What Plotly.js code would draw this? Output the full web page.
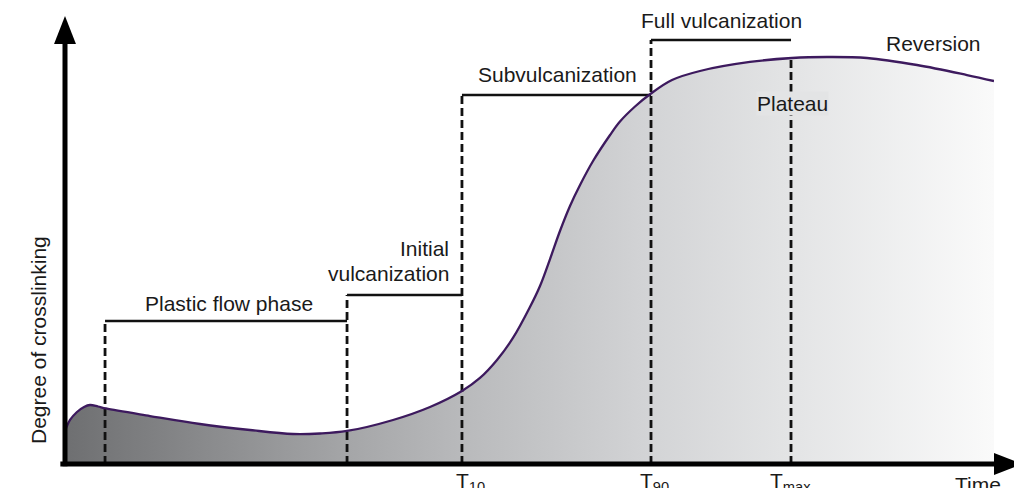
<!DOCTYPE html>
<html>
<head>
<meta charset="utf-8">
<script src="https://cdn.plot.ly/plotly-3.0.1.min.js"></script>
<style>
  html, body { margin: 0; padding: 0; background: #ffffff; }
  #chart { width: 1014px; height: 488px; }
</style>
</head>
<body>
<div id="chart"></div>
<script>
// Cure curve (arbitrary units: time 0-100, degree of crosslinking 0-100)
const time = [0, 0.54, 1.29, 2.05, 2.69, 3.55, 4.41, 9.15, 14.53, 19.91, 24.54, 27.45, 30.36,
  35.31, 39.29, 42.73, 44.67, 46.50, 48.22, 50.05, 51.13, 52.21, 53.28, 54.36, 55.44, 56.84,
  58.67, 59.74, 61.36, 63.08, 65.34, 68.35, 73.73, 78.26, 82.02, 86.33, 91.71, 97.09, 100];
const crosslinking = [7.3, 9.76, 11.53, 12.64, 13.08, 12.75, 12.31, 10.64, 8.87, 7.54, 6.65, 6.76, 7.32,
  9.76, 12.64, 16.19, 19.07, 23.06, 27.94, 34.81, 39.47, 45.45, 51.66, 57.21, 61.86, 67.18,
  72.95, 75.94, 79.27, 82.15, 85.14, 87.14, 89.14, 90.02, 90.24, 90.02, 88.47, 86.25, 84.92];

// Phase boundaries (dashed verticals) and their tops
const boundaryTimes = [4.31, 30.36, 42.73, 63.08, 78.15];
const boundaryTops = [31.71, 37.47, 81.82, 94.01, 90.0];

// Phase brackets (solid horizontals between consecutive boundaries)
const bracketLevels = [31.71, 37.47, 81.82, 94.01];
const phaseLabels = ['Plastic flow phase', 'Initial', 'vulcanization', 'Subvulcanization', 'Full vulcanization'];

// Other labels
const timeMarks = ['T<sub>10</sub>', 'T<sub>90</sub>', 'T<sub>max</sub>'];

const font = 'Liberation Sans, Arial, Helvetica, sans-serif';
const ink = '#1a1a1a';

// dashed vertical lines
const dx = [], dy = [];
boundaryTimes.forEach((t, i) => { dx.push(t, t, null); dy.push(0, boundaryTops[i], null); });
// brackets
const bx = [], by = [];
bracketLevels.forEach((lv, i) => { bx.push(boundaryTimes[i], boundaryTimes[i + 1], null); by.push(lv, lv, null); });

const traces = [
  {
    x: time, y: crosslinking, type: 'scatter', mode: 'lines', fill: 'tozeroy',
    line: { width: 0, color: 'rgba(0,0,0,0)', shape: 'spline', smoothing: 1 },
    fillgradient: {
      type: 'horizontal',
      colorscale: [[0, '#6e6f71'], [0.3, '#a4a5a7'], [0.43, '#b9babc'], [0.63, '#d3d4d6'], [0.78, '#e3e4e5'], [1, '#fafafa']]
    },
    hoverinfo: 'skip', showlegend: false
  },
  {
    x: dx, y: dy, type: 'scatter', mode: 'lines',
    line: { color: '#111111', width: 2.8, dash: '8px,4px' },
    hoverinfo: 'skip', showlegend: false
  },
  {
    x: bx, y: by, type: 'scatter', mode: 'lines',
    line: { color: '#111111', width: 2.6 },
    hoverinfo: 'skip', showlegend: false
  },
  {
    x: time, y: crosslinking, type: 'scatter', mode: 'lines',
    line: { color: '#3d1a5e', width: 2.3, shape: 'spline', smoothing: 1 },
    hoverinfo: 'skip', showlegend: false
  }
];

const ann = (text, x, y, extra) => Object.assign({
  text, x, y, xref: 'x', yref: 'y', showarrow: false,
  xanchor: 'center', yanchor: 'middle',
  font: { family: font, size: 21, color: ink }
}, extra || {});
const pap = { xref: 'paper', yref: 'paper' };

const annotations = [
  ann(phaseLabels[0], 17.65, 35.59),
  ann(phaseLabels[1], 41.55, 47.89, { xanchor: 'right' }),
  ann(phaseLabels[2], 41.55, 42.35, { xanchor: 'right' }),
  ann(phaseLabels[3], 53.01, 86.36),
  ann(phaseLabels[4], 70.72, 98.23),
  ann('Reversion', 93.54, 93.24),
  ann('Plateau', 78.31, 79.93, { bgcolor: '#e3e4e5', borderpad: 0 }),
  ann('Degree of crosslinking', -0.0291, 0.2749, Object.assign({ textangle: -90 }, pap)),
  ann('Time', 0.9559, -0.0455, Object.assign({ xanchor: 'left' }, pap)),
  ann(timeMarks[0], 0.4190, -0.041, Object.assign({ xanchor: 'left' }, pap)),
  ann(timeMarks[1], 0.6169, -0.041, Object.assign({ xanchor: 'left' }, pap)),
  ann(timeMarks[2], 0.7568, -0.041, Object.assign({ xanchor: 'left' }, pap))
];

const shapes = [
  // y axis line
  { type: 'line', xref: 'paper', yref: 'paper', x0: 0, x1: 0, y0: -0.005, y1: 0.935, line: { color: '#000', width: 5 } },
  // x axis line
  { type: 'line', xref: 'paper', yref: 'paper', x0: -0.005, x1: 1.005, y0: 0, y1: 0, line: { color: '#000', width: 5 } },
  // y arrowhead
  { type: 'path', xref: 'paper', yref: 'paper', path: 'M -0.0118 0.9313 L 0 0.9933 L 0.0118 0.9313 Z', fillcolor: '#000', line: { width: 0 } },
  // x arrowhead
  { type: 'path', xref: 'paper', yref: 'paper', path: 'M 1.0 0.0244 L 1.0301 0 L 1.0 -0.0244 Z', fillcolor: '#000', line: { width: 0 } }
];

const layout = {
  width: 1014, height: 488,
  margin: { l: 65, r: 20, t: 13, b: 24 },
  paper_bgcolor: '#ffffff', plot_bgcolor: '#ffffff',
  xaxis: { range: [0, 100], showgrid: false, zeroline: false, showticklabels: false, showline: false, ticks: '', fixedrange: true },
  yaxis: { range: [0, 100], showgrid: false, zeroline: false, showticklabels: false, showline: false, ticks: '', fixedrange: true },
  annotations, shapes, showlegend: false
};

Plotly.newPlot('chart', traces, layout, { displayModeBar: false, staticPlot: true });
</script>
</body>
</html>
